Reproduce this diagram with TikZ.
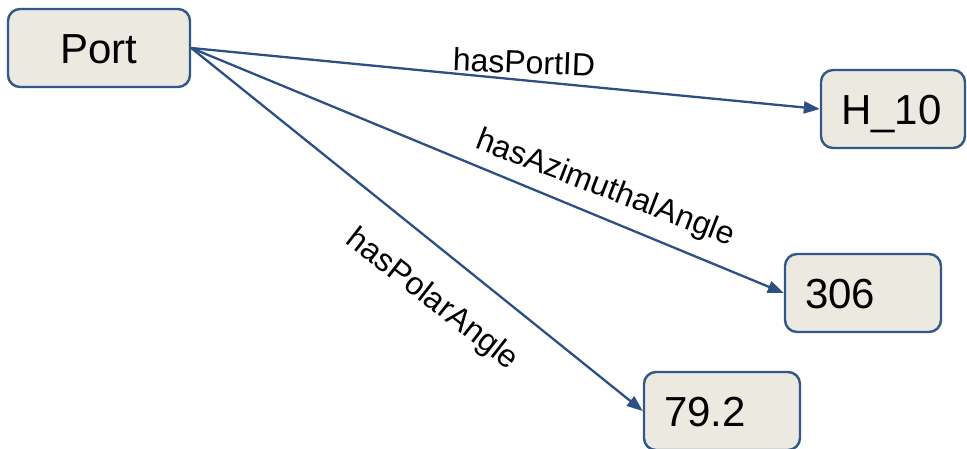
\documentclass[tikz,border=0pt]{standalone}
\usepackage{fontspec}
\setmainfont{Liberation Sans}
\usetikzlibrary{arrows.meta}
\definecolor{edgeblue}{RGB}{44,80,132}
\definecolor{boxline}{RGB}{50,88,138}
\definecolor{boxfill}{RGB}{236,233,224}
\begin{document}
\begin{tikzpicture}[x=1pt,y=-1pt,
  box/.style={draw=boxline, line width=2.4pt, fill=boxfill, rounded corners=12pt,
    minimum height=78pt, inner ysep=0pt, text height=30pt, text depth=0pt,
    font=\fontsize{42}{50}\selectfont},
  valbox/.style={box, text width=116pt, align=left, inner xsep=20pt},
  lbl/.style={font=\fontsize{32}{38}\selectfont, inner sep=0pt},
  arr/.style={draw=edgeblue, line width=2.3pt, -{Triangle[length=16pt,width=12pt]}}]
\useasboundingbox (0,0) rectangle (967,448);
\node[box, minimum width=182pt] (port) at (99,48) {Port};
\node[valbox, text width=104pt] (h10) at (893,109) {H\_10};
\node[valbox] (v306) at (863,293) {306};
\node[valbox] (v792) at (722,411) {79.2};
\draw[arr] (port.east) -- (h10.west);
\draw[arr] (port.east) -- (v306.west);
\draw[arr] (port.east) -- (v792.west);
\node[lbl, rotate=-2] (l1) at (524,62) {hasPortID};
\node[lbl, rotate=-21] (l2) at (605,189) {hasAzimuthalAngle};
\node[lbl, rotate=-38] (l3) at (432,300) {hasPolarAngle};
\end{tikzpicture}
\end{document}
